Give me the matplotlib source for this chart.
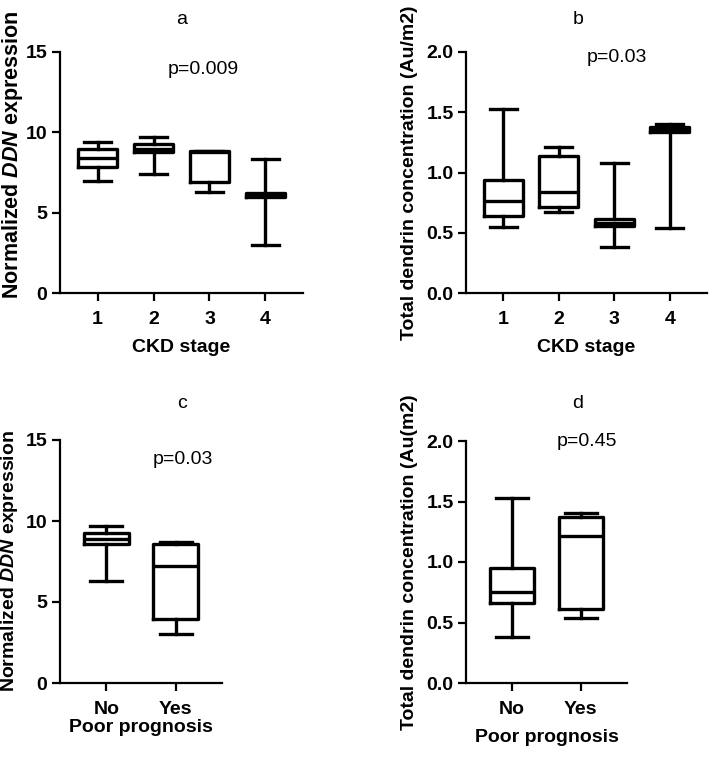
import matplotlib
matplotlib.use("Agg")
import matplotlib.pyplot as plt

plt.rcParams['font.family'] = ['Liberation Sans', 'DejaVu Sans']
plt.rcParams['mathtext.fontset'] = 'custom'
plt.rcParams['mathtext.it'] = 'Liberation Sans:italic:bold'
plt.rcParams['mathtext.rm'] = 'Liberation Sans:bold'

# box stats: whislo, q1, med, q3, whishi
stage_labels = ['1', '2', '3', '4']
ddn_stage = [
    [6.99, 7.86, 8.38, 8.96, 9.42],
    [7.39, 8.75, 8.96, 9.27, 9.73],
    [6.27, 6.93, 8.80, 8.84, 8.84],
    [2.99, 6.00, 6.12, 6.25, 8.34],
]
dendrin_stage = [
    [0.547, 0.638, 0.762, 0.938, 1.524],
    [0.671, 0.712, 0.839, 1.141, 1.213],
    [0.380, 0.555, 0.580, 0.610, 1.078],
    [0.539, 1.340, 1.360, 1.380, 1.403],
]
prog_labels = ['No', 'Yes']
ddn_prog = [
    [6.30, 8.57, 8.86, 9.23, 9.70],
    [3.05, 3.94, 7.21, 8.55, 8.71],
]
dendrin_prog = [
    [0.381, 0.662, 0.753, 0.947, 1.526],
    [0.541, 0.613, 1.214, 1.374, 1.402],
]

W, H = 709, 761
fig = plt.figure(figsize=(W / 100, H / 100), dpi=100)


def px_axes(left, top, right, bottom):
    return fig.add_axes([left / W, 1 - bottom / H, (right - left) / W, (bottom - top) / H])


def draw(ax, stats, labels, ymax, yticks, yfmt, ylabel, xlabel, width, capw,
         ylab_xy, xlab_xy, ylab_size=14):
    bx = []
    for s in stats:
        bx.append(dict(whislo=s[0], q1=s[1], med=s[2], q3=s[3], whishi=s[4], fliers=[]))
    pos = list(range(1, len(stats) + 1))
    lw = 2.4
    ax.bxp(bx, positions=pos, widths=width, capwidths=capw, showfliers=False,
           boxprops=dict(color='black', linewidth=lw),
           medianprops=dict(color='black', linewidth=lw),
           whiskerprops=dict(color='black', linewidth=lw),
           capprops=dict(color='black', linewidth=lw))
    ax.set_xlim(0.33, len(stats) + 0.67)
    ax.set_ylim(0, ymax)
    ax.set_xticks(pos)
    ax.set_xticklabels(labels)
    ax.set_yticks(yticks)
    ax.set_yticklabels([yfmt.format(v) for v in yticks])
    for sp in ['top', 'right']:
        ax.spines[sp].set_visible(False)
    for sp in ['left', 'bottom']:
        ax.spines[sp].set_linewidth(1.6)
    ax.tick_params(axis='both', direction='out', length=6, width=1.6, labelsize=14)
    ax.tick_params(axis='x', pad=7)
    ax.tick_params(axis='y', pad=3)
    for t in ax.get_xticklabels() + ax.get_yticklabels():
        t.set_fontweight('bold')
    ax.set_ylabel(ylabel, fontsize=ylab_size, fontweight='bold')
    ax.yaxis.set_label_coords(*ylab_xy)
    ax.yaxis.label.set_va('center')
    ax.set_xlabel(xlabel, fontsize=14, fontweight='bold')
    ax.xaxis.set_label_coords(*xlab_xy)
    ax.xaxis.label.set_va('center')


ddn_label = r'Normalized $\mathit{DDN}$ expression'

ax_a = px_axes(60, 52, 303, 293)
draw(ax_a, ddn_stage, stage_labels, 15, [0, 5, 10, 15], '{:g}', ddn_label, 'CKD stage',
     0.7, 0.48, (-47 / 243, (293 - 155) / 241), (0.5, -55 / 241), ylab_size=15.5)

ax_b = px_axes(466, 52, 707, 293)
draw(ax_b, dendrin_stage, stage_labels, 2.0, [0, 0.5, 1.0, 1.5, 2.0], '{:.1f}',
     'Total dendrin concentration (Au/m2)', 'CKD stage',
     0.7, 0.48, (-56 / 241, 0.5), (0.5, -55 / 241))

ax_c = px_axes(60, 440, 222, 683)
draw(ax_c, ddn_prog, prog_labels, 15, [0, 5, 10, 15], '{:g}', ddn_label, 'Poor prognosis',
     0.65, 0.46, (-50 / 162, 0.5), (0.5, -45 / 243))

ax_d = px_axes(466, 441, 627, 683)
draw(ax_d, dendrin_prog, prog_labels, 2.0, [0, 0.5, 1.0, 1.5, 2.0], '{:.1f}',
     'Total dendrin concentration (Au(m2)', 'Poor prognosis',
     0.65, 0.46, (-56 / 161, 0.5), (0.5, -54 / 242))

# panel letters and p-values
for s, x, y in [('a', 182, 20), ('b', 578, 20), ('c', 182, 404), ('d', 578, 404)]:
    fig.text(x / W, 1 - y / H, s, fontsize=14, ha='center', va='center')
for s, x, y in [('p=0.009', 203, 70), ('p=0.03', 617, 57), ('p=0.03', 183, 460), ('p=0.45', 587, 441)]:
    fig.text(x / W, 1 - y / H, s, fontsize=14, ha='center', va='center')

fig.savefig('out.png', dpi=100)
